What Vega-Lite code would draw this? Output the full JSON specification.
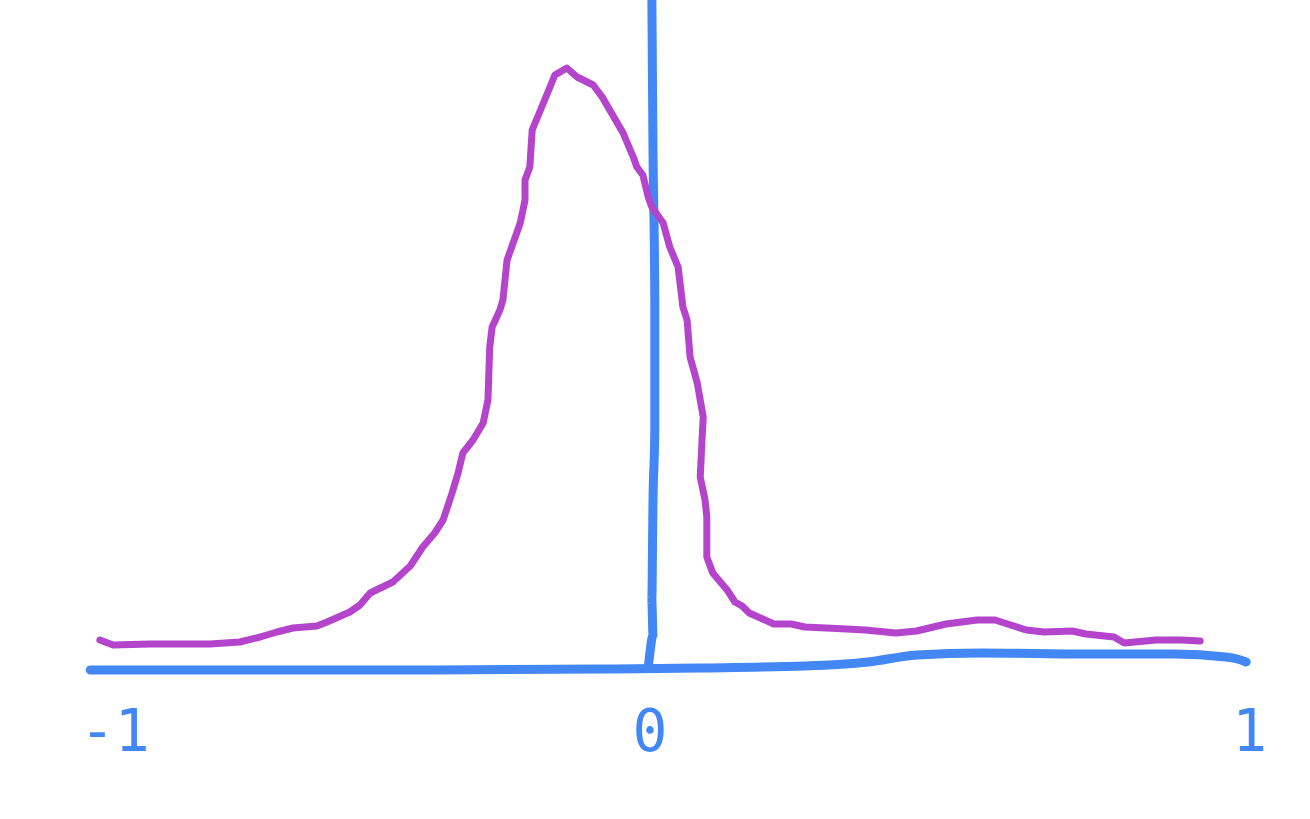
{
  "$schema": "https://vega.github.io/schema/vega-lite/v6.json",
  "autosize": {"type": "fit", "contains": "padding"},
  "width": 1310,
  "height": 819,
  "padding": 0,
  "background": "white",
  "config": {"view": {"stroke": null}},
  "datasets": {
    "density": [
      {"i": 1, "x": -0.920, "y": 0.30}, {"i": 2, "x": -0.898, "y": 0.25}, {"i": 3, "x": -0.836, "y": 0.26},
      {"i": 4, "x": -0.736, "y": 0.26}, {"i": 5, "x": -0.686, "y": 0.28}, {"i": 6, "x": -0.652, "y": 0.33},
      {"i": 7, "x": -0.624, "y": 0.38}, {"i": 8, "x": -0.597, "y": 0.42}, {"i": 9, "x": -0.557, "y": 0.44},
      {"i": 10, "x": -0.540, "y": 0.48}, {"i": 11, "x": -0.502, "y": 0.58}, {"i": 12, "x": -0.485, "y": 0.65},
      {"i": 13, "x": -0.468, "y": 0.77}, {"i": 14, "x": -0.430, "y": 0.88}, {"i": 15, "x": -0.401, "y": 1.04},
      {"i": 16, "x": -0.380, "y": 1.23}, {"i": 17, "x": -0.360, "y": 1.37}, {"i": 18, "x": -0.346, "y": 1.50},
      {"i": 19, "x": -0.331, "y": 1.77}, {"i": 20, "x": -0.321, "y": 1.97}, {"i": 21, "x": -0.313, "y": 2.17},
      {"i": 22, "x": -0.296, "y": 2.30}, {"i": 23, "x": -0.279, "y": 2.47}, {"i": 24, "x": -0.271, "y": 2.70},
      {"i": 25, "x": -0.268, "y": 3.23}, {"i": 26, "x": -0.264, "y": 3.43}, {"i": 27, "x": -0.251, "y": 3.60},
      {"i": 28, "x": -0.246, "y": 3.70}, {"i": 29, "x": -0.239, "y": 4.10}, {"i": 30, "x": -0.217, "y": 4.47},
      {"i": 31, "x": -0.209, "y": 4.70}, {"i": 32, "x": -0.209, "y": 4.90}, {"i": 33, "x": -0.201, "y": 5.03},
      {"i": 34, "x": -0.197, "y": 5.40}, {"i": 35, "x": -0.181, "y": 5.63}, {"i": 36, "x": -0.159, "y": 5.95},
      {"i": 37, "x": -0.139, "y": 6.02}, {"i": 38, "x": -0.122, "y": 5.93}, {"i": 39, "x": -0.095, "y": 5.85},
      {"i": 40, "x": -0.080, "y": 5.73}, {"i": 41, "x": -0.045, "y": 5.37}, {"i": 42, "x": -0.028, "y": 5.13},
      {"i": 43, "x": -0.022, "y": 5.03}, {"i": 44, "x": -0.012, "y": 4.95}, {"i": 45, "x": -0.003, "y": 4.73},
      {"i": 46, "x": 0.003, "y": 4.63}, {"i": 47, "x": 0.022, "y": 4.47}, {"i": 48, "x": 0.033, "y": 4.23},
      {"i": 49, "x": 0.047, "y": 4.03}, {"i": 50, "x": 0.055, "y": 3.63}, {"i": 51, "x": 0.062, "y": 3.50},
      {"i": 52, "x": 0.067, "y": 3.13}, {"i": 53, "x": 0.079, "y": 2.87}, {"i": 54, "x": 0.089, "y": 2.53},
      {"i": 55, "x": 0.087, "y": 2.30}, {"i": 56, "x": 0.084, "y": 1.93}, {"i": 57, "x": 0.092, "y": 1.70},
      {"i": 58, "x": 0.095, "y": 1.53}, {"i": 59, "x": 0.095, "y": 1.13}, {"i": 60, "x": 0.105, "y": 0.97},
      {"i": 61, "x": 0.129, "y": 0.80}, {"i": 62, "x": 0.142, "y": 0.68}, {"i": 63, "x": 0.154, "y": 0.64},
      {"i": 64, "x": 0.166, "y": 0.57}, {"i": 65, "x": 0.207, "y": 0.46}, {"i": 66, "x": 0.236, "y": 0.46},
      {"i": 67, "x": 0.259, "y": 0.43}, {"i": 68, "x": 0.329, "y": 0.41}, {"i": 69, "x": 0.360, "y": 0.40},
      {"i": 70, "x": 0.411, "y": 0.37}, {"i": 71, "x": 0.446, "y": 0.39}, {"i": 72, "x": 0.495, "y": 0.46},
      {"i": 73, "x": 0.547, "y": 0.50}, {"i": 74, "x": 0.577, "y": 0.50}, {"i": 75, "x": 0.629, "y": 0.40},
      {"i": 76, "x": 0.659, "y": 0.38}, {"i": 77, "x": 0.706, "y": 0.39}, {"i": 78, "x": 0.729, "y": 0.36},
      {"i": 79, "x": 0.776, "y": 0.33}, {"i": 80, "x": 0.793, "y": 0.27}, {"i": 81, "x": 0.846, "y": 0.30},
      {"i": 82, "x": 0.888, "y": 0.30}, {"i": 83, "x": 0.920, "y": 0.29}
    ],
    "axes": [
      {"line": "h", "i": 1, "x": -0.936, "y": 0.0}, {"line": "h", "i": 2, "x": -0.418, "y": 0.0},
      {"line": "h", "i": 3, "x": -0.084, "y": 0.01}, {"line": "h", "i": 4, "x": 0.084, "y": 0.02},
      {"line": "h", "i": 5, "x": 0.259, "y": 0.04}, {"line": "h", "i": 6, "x": 0.365, "y": 0.08},
      {"line": "h", "i": 7, "x": 0.446, "y": 0.15}, {"line": "h", "i": 8, "x": 0.554, "y": 0.17},
      {"line": "h", "i": 9, "x": 0.729, "y": 0.16}, {"line": "h", "i": 10, "x": 0.876, "y": 0.16},
      {"line": "h", "i": 11, "x": 0.963, "y": 0.13}, {"line": "h", "i": 12, "x": 0.982, "y": 0.11},
      {"line": "h", "i": 13, "x": 0.997, "y": 0.08},
      {"line": "v", "i": 1, "x": 0.003, "y": 6.80}, {"line": "v", "i": 2, "x": 0.005, "y": 5.20},
      {"line": "v", "i": 3, "x": 0.008, "y": 3.70}, {"line": "v", "i": 4, "x": 0.008, "y": 2.40},
      {"line": "v", "i": 5, "x": 0.005, "y": 1.70}, {"line": "v", "i": 6, "x": 0.003, "y": 0.70},
      {"line": "v", "i": 7, "x": 0.005, "y": 0.35}, {"line": "v", "i": 8, "x": 0.000, "y": 0.18},
      {"line": "v", "i": 9, "x": -0.003, "y": 0.02}
    ],
    "labels": [
      {"x": -0.895, "y": -0.81, "text": "-1"},
      {"x": 0.0, "y": -0.81, "text": "0"},
      {"x": 1.003, "y": -0.81, "text": "1"}
    ]
  },
  "encoding": {
    "x": {"field": "x", "type": "quantitative", "scale": {"domain": [-1.087, 1.1037], "nice": false, "zero": false}, "axis": null},
    "y": {"field": "y", "type": "quantitative", "scale": {"domain": [-1.49, 6.70], "nice": false, "zero": false}, "axis": null}
  },
  "layer": [
    {
      "data": {"name": "axes"},
      "mark": {"type": "line", "color": "#4387f4", "strokeWidth": 9, "strokeCap": "round", "strokeJoin": "round", "interpolate": "monotone", "clip": true},
      "encoding": {"detail": {"field": "line"}, "order": {"field": "i", "type": "quantitative"}}
    },
    {
      "data": {"name": "density"},
      "mark": {"type": "line", "color": "#b444cc", "strokeWidth": 7, "strokeCap": "round", "strokeJoin": "round"},
      "encoding": {"order": {"field": "i", "type": "quantitative"}}
    },
    {
      "data": {"name": "labels"},
      "mark": {"type": "text", "color": "#4387f4", "font": "DejaVu Sans Mono", "fontSize": 58, "baseline": "alphabetic", "align": "center"},
      "encoding": {"text": {"field": "text"}}
    }
  ]
}
